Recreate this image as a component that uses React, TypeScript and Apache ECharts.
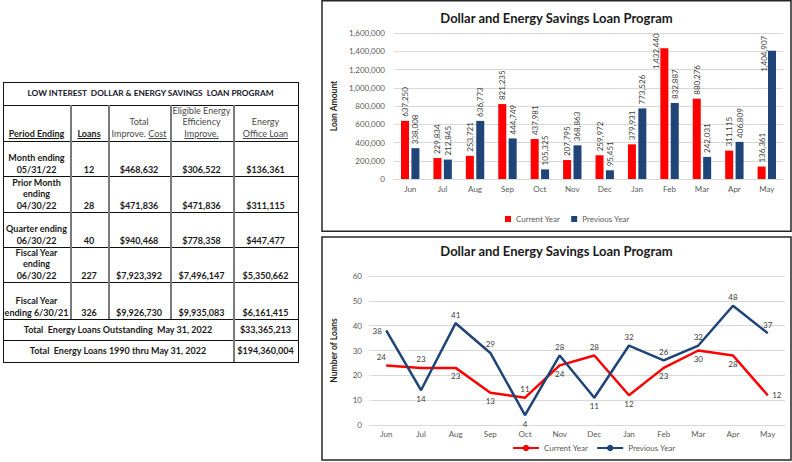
import React, { useEffect, useRef } from "react";
import * as echarts from "echarts";

// ---------- data ----------
const months = ["Jun", "Jul", "Aug", "Sep", "Oct", "Nov", "Dec", "Jan", "Feb", "Mar", "Apr", "May"];
const seriesNames = ["Current Year", "Previous Year"];
const chartTitle = "Dollar and Energy Savings Loan Program";

const amountCurrent = [637250, 229834, 253721, 821235, 437981, 207795, 259972, 379931, 1432440, 880276, 311115, 136361];
const amountPrevious = [338008, 212845, 636773, 444749, 105325, 368863, 95451, 773526, 832887, 242031, 406809, 1404907];

const loansCurrent = [24, 23, 23, 13, 11, 24, 28, 12, 23, 30, 28, 12];
const loansPrevious = [38, 14, 41, 29, 4, 28, 11, 32, 26, 32, 48, 37];

const tableTitle = "LOW INTEREST  DOLLAR & ENERGY SAVINGS  LOAN PROGRAM";
const periodLabels = [
  ["Month ending", "05/31/22"],
  ["Prior Month", "ending", "04/30/22"],
  ["Quarter ending", "06/30/22"],
  ["Fiscal Year", "ending", "06/30/22"],
  ["Fiscal Year", "ending 6/30/21"],
];
const periodLoans = [12, 28, 40, 227, 326];
const periodTotalCost = [468632, 471836, 940468, 7923392, 9926730];
const periodEligible = [306522, 471836, 778358, 7496147, 9935083];
const periodOfficeLoan = [136361, 311115, 447477, 5350662, 6161415];
const totalLabels = ["Total  Energy Loans Outstanding  May 31, 2022", "Total  Energy Loans 1990 thru May 31, 2022"];
const totalValues = [33365213, 194360004];

// label placements for the line chart
const curLabelPos = ["top", "top", "bottom", "bottom", "top", "bottom", "top", "bottom", "bottom", "bottom", "bottom", "right"];
const prevLabelPos = ["left", "bottom", "top", "top", "bottom", "top", "bottom", "top", "top", "top", "top", "top"];

// ---------- helpers ----------
const fmt = (v: number) => v.toLocaleString("en-US");
const money = (v: number) => "$" + fmt(v);
const RED = "#FF0000";
const BLUE = "#1F4478";
const FONT = "Lato";
const AMOUNT_MAX = 1600000;
const LABEL_ROOM = 300000; // above this headroom, Excel pulls the label down beside the bar top

const colX = [3, 70, 108, 170, 233, 298];
const rowY = [82, 105, 141, 176, 212, 247, 282, 319, 340, 362];

function Cell(props: { x0: number; x1: number; y0: number; y1: number; children: any; justify?: string; style?: any }) {
  const { x0, x1, y0, y1, children, justify, style } = props;
  return (
    <div
      style={{
        position: "absolute",
        left: x0,
        top: y0,
        width: x1 - x0,
        height: y1 - y0,
        display: "flex",
        flexDirection: "column",
        justifyContent: justify || "flex-end",
        alignItems: "center",
        textAlign: "center",
        paddingBottom: justify ? 0 : 1,
        boxSizing: "border-box",
        lineHeight: "11.5px",
        fontSize: 9,
        fontWeight: 700,
        color: "#1a1a1a",
        whiteSpace: "pre",
        ...(style || {}),
      }}
    >
      {children}
    </div>
  );
}

function Table() {
  const lines: any[] = [];
  rowY.forEach((y, i) => {
    lines.push(
      <div key={"h" + i} style={{ position: "absolute", left: colX[0], top: y, width: colX[5] - colX[0] + 1, height: 1, background: "#111" }} />
    );
  });
  [colX[0], colX[5]].forEach((x, i) => {
    lines.push(
      <div key={"vo" + i} style={{ position: "absolute", left: x, top: rowY[0], width: 1, height: rowY[9] - rowY[0] + 1, background: "#111" }} />
    );
  });
  [colX[1], colX[2], colX[3]].forEach((x, i) => {
    lines.push(
      <div key={"vi" + i} style={{ position: "absolute", left: x, top: rowY[1], width: 2, height: rowY[7] - rowY[1], background: "#7a7a7a" }} />
    );
  });
  lines.push(
    <div key="v4" style={{ position: "absolute", left: colX[4], top: rowY[1], width: 2, height: rowY[9] - rowY[1], background: "#7a7a7a" }} />
  );

  const hdrNormal = { fontWeight: 400, color: "#4a4a4a" };
  const cells: any[] = [];
  cells.push(
    <Cell key="title" x0={colX[0]} x1={colX[5]} y0={rowY[0]} y1={rowY[1]} justify="center" style={{ fontSize: 8.3, color: "#141428" }}>
      {tableTitle}
    </Cell>
  );
  cells.push(
    <Cell key="h0" x0={colX[0]} x1={colX[1]} y0={rowY[1]} y1={rowY[2]} style={{ paddingBottom: 2 }}>
      <span style={{ textDecoration: "underline" }}>Period Ending</span>
    </Cell>
  );
  cells.push(
    <Cell key="h1" x0={colX[1]} x1={colX[2]} y0={rowY[1]} y1={rowY[2]} style={{ paddingBottom: 2 }}>
      <span style={{ textDecoration: "underline" }}>Loans</span>
    </Cell>
  );
  cells.push(
    <Cell key="h2" x0={colX[2]} x1={colX[3]} y0={rowY[1]} y1={rowY[2]} style={{ ...hdrNormal, paddingBottom: 2 }}>
      <div>Total</div>
      <div>
        Improve. <span style={{ textDecoration: "underline" }}>Cost</span>
      </div>
    </Cell>
  );
  cells.push(
    <Cell key="h3" x0={colX[3]} x1={colX[4]} y0={rowY[1]} y1={rowY[2]} style={{ ...hdrNormal, paddingBottom: 2 }}>
      <div>Eligible Energy</div>
      <div>Efficiency</div>
      <div style={{ textDecoration: "underline" }}>Improve.</div>
    </Cell>
  );
  cells.push(
    <Cell key="h4" x0={colX[4]} x1={colX[5]} y0={rowY[1]} y1={rowY[2]} style={{ ...hdrNormal, paddingBottom: 2 }}>
      <div>Energy</div>
      <div style={{ textDecoration: "underline" }}>Office Loan</div>
    </Cell>
  );
  periodLabels.forEach((lbl, i) => {
    const y0 = rowY[i + 2];
    const y1 = rowY[i + 3];
    cells.push(
      <Cell key={"p" + i} x0={colX[0]} x1={colX[1]} y0={y0} y1={y1}>
        {lbl.map((t, j) => (
          <div key={j}>{t}</div>
        ))}
      </Cell>
    );
    cells.push(<Cell key={"l" + i} x0={colX[1]} x1={colX[2]} y0={y0} y1={y1}>{String(periodLoans[i])}</Cell>);
    cells.push(<Cell key={"c" + i} x0={colX[2]} x1={colX[3]} y0={y0} y1={y1}>{money(periodTotalCost[i])}</Cell>);
    cells.push(<Cell key={"e" + i} x0={colX[3]} x1={colX[4]} y0={y0} y1={y1}>{money(periodEligible[i])}</Cell>);
    cells.push(<Cell key={"o" + i} x0={colX[4]} x1={colX[5]} y0={y0} y1={y1}>{money(periodOfficeLoan[i])}</Cell>);
  });
  totalLabels.forEach((t, i) => {
    const y0 = rowY[7 + i];
    const y1 = rowY[8 + i];
    cells.push(<Cell key={"tl" + i} x0={colX[0]} x1={colX[4]} y0={y0} y1={y1} justify="center">{t}</Cell>);
    cells.push(<Cell key={"tv" + i} x0={colX[4]} x1={colX[5]} y0={y0} y1={y1} justify="center">{money(totalValues[i])}</Cell>);
  });
  return (
    <div style={{ position: "absolute", left: 0, top: 0, width: 320, height: 462, fontFamily: FONT }}>
      {lines}
      {cells}
    </div>
  );
}

function useChart(ref: any, option: any) {
  useEffect(() => {
    const chart = echarts.init(ref.current, undefined, { renderer: "svg" });
    chart.setOption(option);
    return () => chart.dispose();
  }, []);
}

function barItems(values: number[]) {
  return values.map((v) =>
    v > AMOUNT_MAX - LABEL_ROOM
      ? { value: v, label: { position: [-4, 3], align: "center", verticalAlign: "middle", distance: 0 } }
      : v
  );
}

function BarChart() {
  const ref = useRef<HTMLDivElement>(null);
  const barLabel = {
    show: true,
    position: "top",
    rotate: 90,
    align: "left",
    verticalAlign: "middle",
    distance: 4,
    fontSize: 8,
    fontFamily: FONT,
    color: "#404040",
    formatter: (p: any) => fmt(p.value),
  };
  const option = {
    animation: false,
    textStyle: { fontFamily: FONT },
    graphic: [
      { type: "rect", silent: true, shape: { x: 1, y: 0.75, width: 469, height: 230.5 }, style: { fill: "none", stroke: "#262626", lineWidth: 1.5 } },
      { type: "text", x: 235.5, y: 18, style: { text: chartTitle, font: "bold 13px Lato", fill: "#1a1a1a", textAlign: "center", textVerticalAlign: "middle" } },
    ],
    legend: {
      data: seriesNames,
      left: 184,
      top: 215,
      padding: 0,
      icon: "rect",
      itemWidth: 6,
      itemHeight: 6,
      itemGap: 11,
      textStyle: { fontSize: 8, color: "#595959", fontFamily: FONT },
    },
    grid: { left: 61, right: 9, top: 33, bottom: 54 },
    xAxis: {
      type: "category",
      data: months,
      axisTick: { show: false },
      axisLine: { lineStyle: { color: "#d9d9d9" } },
      axisLabel: { fontSize: 8, color: "#595959", margin: 6, fontFamily: FONT },
    },
    yAxis: {
      type: "value",
      min: 0,
      max: AMOUNT_MAX,
      interval: 200000,
      name: "Loan Amount",
      nameLocation: "middle",
      nameGap: 48,
      nameRotate: 90,
      nameTextStyle: { fontSize: 8.5, fontWeight: "bold", color: "#262626", fontFamily: FONT },
      axisLabel: { fontSize: 8, color: "#595959", margin: 9, fontFamily: FONT, formatter: (v: number) => fmt(v) },
      splitLine: { lineStyle: { color: "#d9d9d9" } },
    },
    series: [
      { name: seriesNames[0], type: "bar", data: barItems(amountCurrent), barWidth: 8, barGap: "30%", itemStyle: { color: RED }, label: barLabel },
      { name: seriesNames[1], type: "bar", data: barItems(amountPrevious), barWidth: 8, barGap: "30%", itemStyle: { color: BLUE }, label: barLabel },
    ],
  };
  useChart(ref, option);
  return <div ref={ref} style={{ position: "absolute", left: 321, top: 0, width: 471, height: 233 }} />;
}

function LineChart() {
  const ref = useRef<HTMLDivElement>(null);
  const lbl = { show: true, fontSize: 8, fontFamily: FONT, color: "#404040", distance: 4 };
  const option = {
    animation: false,
    textStyle: { fontFamily: FONT },
    graphic: [
      { type: "rect", silent: true, shape: { x: 1, y: 1, width: 469, height: 223 }, style: { fill: "none", stroke: "#262626", lineWidth: 1.5 } },
      { type: "text", x: 235.5, y: 15, style: { text: chartTitle, font: "bold 13px Lato", fill: "#1a1a1a", textAlign: "center", textVerticalAlign: "middle" } },
    ],
    legend: {
      data: seriesNames,
      left: 191,
      top: 208,
      padding: 0,
      itemWidth: 26,
      itemHeight: 8,
      itemGap: 8,
      textStyle: { fontSize: 8, color: "#595959", fontFamily: FONT },
    },
    grid: { left: 46, right: 7, top: 40, bottom: 37 },
    xAxis: {
      type: "category",
      data: months,
      axisTick: { show: false },
      axisLine: { lineStyle: { color: "#d9d9d9" } },
      axisLabel: { fontSize: 8, color: "#595959", margin: 5, fontFamily: FONT },
    },
    yAxis: {
      type: "value",
      min: 0,
      max: 60,
      interval: 10,
      name: "Number of Loans",
      nameLocation: "middle",
      nameGap: 31,
      nameRotate: 90,
      nameTextStyle: { fontSize: 8.5, fontWeight: "bold", color: "#262626", fontFamily: FONT },
      axisLabel: { fontSize: 8, color: "#595959", margin: 7, fontFamily: FONT },
      splitLine: { lineStyle: { color: "#d9d9d9" } },
    },
    series: [
      {
        name: seriesNames[0],
        type: "line",
        symbol: "circle",
        symbolSize: 1,
        itemStyle: { color: RED },
        lineStyle: { color: RED, width: 2.5 },
        label: lbl,
        data: loansCurrent.map((v, i) => ({ value: v, label: { position: curLabelPos[i], offset: i === 0 ? [-5, 0] : [0, 0] } })),
      },
      {
        name: seriesNames[1],
        type: "line",
        symbol: "circle",
        symbolSize: 1,
        itemStyle: { color: BLUE },
        lineStyle: { color: BLUE, width: 2.5 },
        label: lbl,
        data: loansPrevious.map((v, i) => ({ value: v, label: { position: prevLabelPos[i] } })),
      },
    ],
  };
  useChart(ref, option);
  return <div ref={ref} style={{ position: "absolute", left: 321, top: 236, width: 471, height: 226 }} />;
}

export default function App() {
  return (
    <div style={{ position: "fixed", left: 0, top: 0, width: 792, height: 462, background: "#fff", overflow: "hidden" }}>
      <Table />
      <BarChart />
      <LineChart />
    </div>
  );
}
